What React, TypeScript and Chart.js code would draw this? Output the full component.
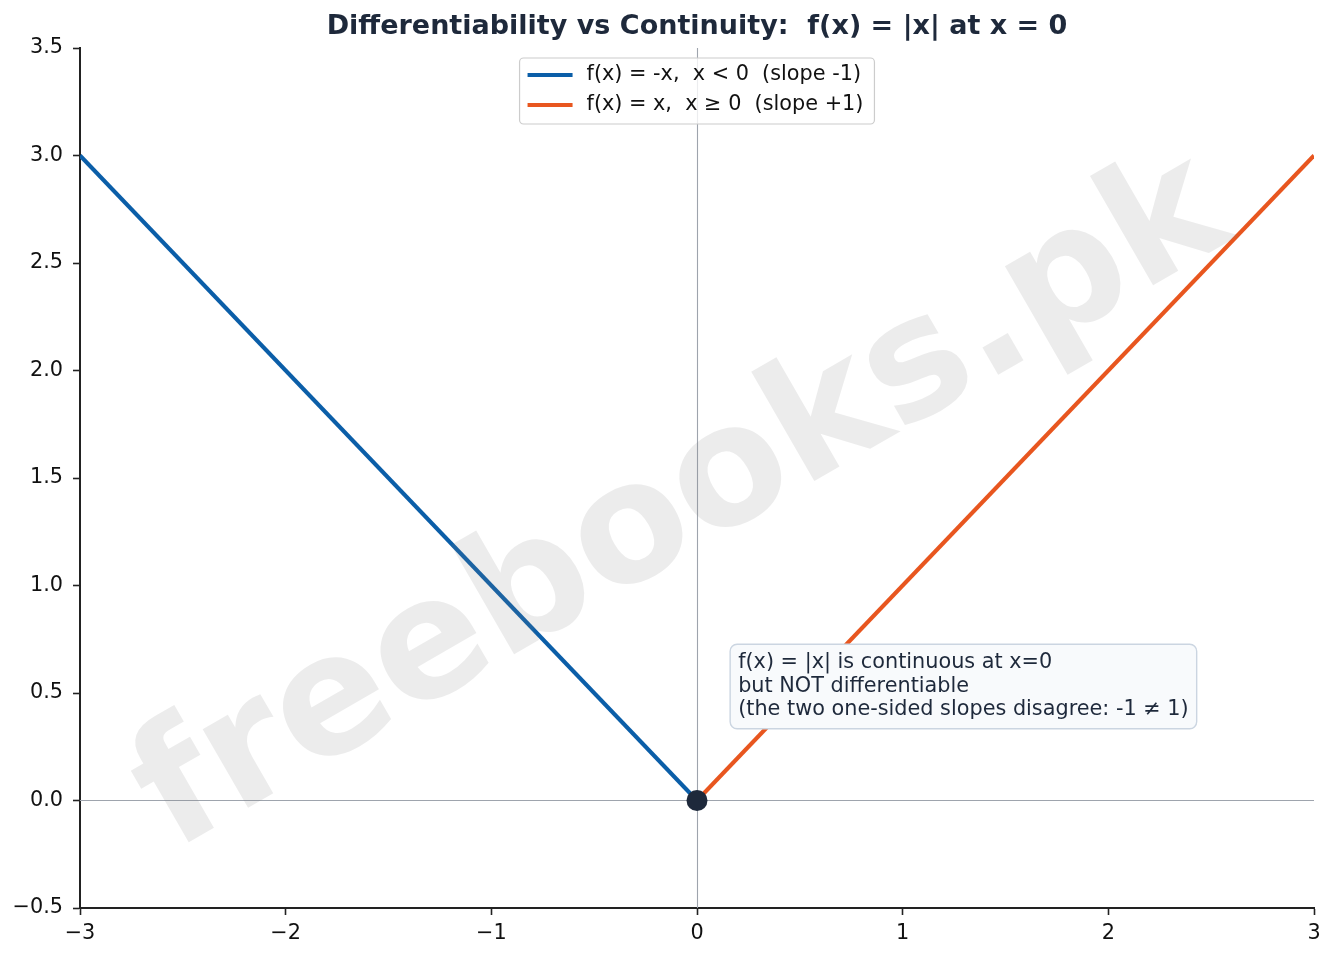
import React, { useEffect, useRef } from "react";
import { Chart, registerables } from "chart.js";

Chart.register(...registerables);

// ---------- data ----------
const TITLE = "Differentiability vs Continuity:  f(x) = |x| at x = 0";
const leftX = [-3, 0];
const leftY = [3, 0];
const rightX = [0, 3];
const rightY = [0, 3];
const vertexX = [0];
const vertexY = [0];
const seriesLabels = [
  "f(x) = -x,  x < 0  (slope -1)",
  "f(x) = x,  x \u2265 0  (slope +1)",
];
const seriesColors = ["#0b5ea8", "#e8561f"];
const xTicks = [-3, -2, -1, 0, 1, 2, 3];
const yTicks = [-0.5, 0, 0.5, 1, 1.5, 2, 2.5, 3, 3.5];
const noteLines = [
  "f(x) = |x| is continuous at x=0",
  "but NOT differentiable",
  "(the two one-sided slopes disagree: -1 \u2260 1)",
];
const noteAnchor = [0.2, 0.53]; // data coords: text left x, vertical center y
const WATERMARK = "freebooks.pk";

const FONT = "'DejaVu Sans', sans-serif";
const INK = "#1e293b";
const TEXT_PX = 20.8;

const fmt = (v: number, dec: number) => {
  const s = Math.abs(v).toFixed(dec);
  return v < 0 ? "\u2212" + s : s;
};

const decorPlugin = {
  id: "decor",
  beforeDatasetsDraw(chart: any) {
    const { ctx, chartArea, scales } = chart;
    const x0 = Math.floor(scales.x.getPixelForValue(0)) + 0.5;
    const y0 = scales.y.getPixelForValue(0);
    ctx.save();
    ctx.strokeStyle = "#9ea4ad";
    ctx.lineWidth = 1.1;
    ctx.beginPath();
    ctx.moveTo(x0, chartArea.top);
    ctx.lineTo(x0, chartArea.bottom);
    ctx.moveTo(chartArea.left, y0);
    ctx.lineTo(chartArea.right, y0);
    ctx.stroke();
    ctx.restore();
  },
  afterDraw(chart: any) {
    const { ctx, chartArea, scales, width, height } = chart;
    ctx.save();
    // title
    ctx.fillStyle = INK;
    ctx.font = `bold 27px ${FONT}`;
    ctx.textAlign = "center";
    ctx.textBaseline = "middle";
    ctx.fillText(TITLE, (chartArea.left + chartArea.right) / 2, 27);

    // annotation box
    ctx.font = `${TEXT_PX}px ${FONT}`;
    ctx.textAlign = "left";
    const lh = 23.5;
    const tx = scales.x.getPixelForValue(noteAnchor[0]);
    const cy = scales.y.getPixelForValue(noteAnchor[1]);
    const maxW = Math.max(...noteLines.map((l) => ctx.measureText(l).width));
    const bx = tx - 8;
    const bw = maxW + 16;
    const bh = lh * noteLines.length + 14;
    const by = cy - bh / 2;
    ctx.beginPath();
    ctx.roundRect(bx, by, bw, bh, 7);
    ctx.fillStyle = "#f8fafc";
    ctx.fill();
    ctx.strokeStyle = "#cbd5e1";
    ctx.lineWidth = 1.4;
    ctx.stroke();
    ctx.fillStyle = INK;
    noteLines.forEach((l, i) => {
      ctx.fillText(l, tx, cy + (i - (noteLines.length - 1) / 2) * lh);
    });

    // legend (upper center)
    ctx.font = `${TEXT_PX}px ${FONT}`;
    const textW = Math.max(...seriesLabels.map((l) => ctx.measureText(l).width));
    const lw = 8 + 45 + 14 + textW + 11;
    const lhgt = 66;
    const lx = (chartArea.left + chartArea.right) / 2 - lw / 2;
    const ly = chartArea.top + 10;
    ctx.beginPath();
    ctx.roundRect(lx, ly, lw, lhgt, 4);
    ctx.fillStyle = "rgba(255,255,255,0.8)";
    ctx.fill();
    ctx.strokeStyle = "#cccccc";
    ctx.lineWidth = 1.2;
    ctx.stroke();
    seriesLabels.forEach((l, i) => {
      const ry = ly + 17 + i * 30;
      ctx.strokeStyle = seriesColors[i];
      ctx.lineWidth = 4;
      ctx.beginPath();
      ctx.moveTo(lx + 8, ry);
      ctx.lineTo(lx + 53, ry);
      ctx.stroke();
      ctx.fillStyle = "#111111";
      ctx.textBaseline = "middle";
      ctx.fillText(l, lx + 67, ry);
    });

    // watermark
    ctx.translate(width / 2, height / 2);
    ctx.rotate((-30 * Math.PI) / 180);
    ctx.font = `bold 166px ${FONT}`;
    ctx.textAlign = "center";
    ctx.textBaseline = "middle";
    ctx.fillStyle = "rgba(128,128,128,0.15)";
    ctx.fillText(WATERMARK, 0, 32);
    ctx.restore();
  },
};

export default function App() {
  const ref = useRef<HTMLCanvasElement>(null);
  useEffect(() => {
    document.body.style.margin = "0";
    const canvas = ref.current!;
    const chart = new Chart(canvas, {
      type: "line",
      data: {
        datasets: [
          {
            label: seriesLabels[0],
            data: leftX.map((x, i) => ({ x, y: leftY[i] })),
            borderColor: seriesColors[0],
            borderWidth: 4,
            pointRadius: 0,
            fill: false,
            order: 2,
          },
          {
            label: seriesLabels[1],
            data: rightX.map((x, i) => ({ x, y: rightY[i] })),
            borderColor: seriesColors[1],
            borderWidth: 4,
            pointRadius: 0,
            fill: false,
            order: 1,
          },
          {
            label: "vertex",
            data: vertexX.map((x, i) => ({ x, y: vertexY[i] })),
            showLine: false,
            pointRadius: 10.5,
            pointBackgroundColor: INK,
            pointBorderColor: INK,
            pointBorderWidth: 0,
            order: 0,
            clip: false,
          } as any,
        ],
      },
      options: {
        animation: false,
        responsive: false,
        devicePixelRatio: 1,
        events: [],
        layout: { padding: { top: 48, left: 0, right: 21, bottom: 0 } },
        plugins: {
          legend: { display: false },
          title: { display: false },
          tooltip: { enabled: false },
        },
        scales: {
          x: {
            type: "linear",
            min: -3,
            max: 3,
            afterBuildTicks: (s: any) => {
              s.ticks = xTicks.map((v) => ({ value: v }));
            },
            afterFit: (s: any) => {
              s.height = 50;
            },
            ticks: {
              callback: (v: any) => fmt(Number(v), 0),
              font: { family: FONT, size: TEXT_PX },
              color: "#111111",
              padding: 6,
              maxRotation: 0,
              autoSkip: false,
            },
            grid: {
              drawOnChartArea: false,
              drawTicks: true,
              tickLength: 7,
              tickColor: "#222222",
              tickWidth: 1.6,
            },
            border: { display: true, color: "#222222", width: 2 },
          },
          y: {
            type: "linear",
            min: -0.5,
            max: 3.5,
            afterBuildTicks: (s: any) => {
              s.ticks = yTicks.map((v) => ({ value: v }));
            },
            afterFit: (s: any) => {
              s.width = 80;
            },
            ticks: {
              callback: (v: any) => fmt(Number(v), 1),
              font: { family: FONT, size: TEXT_PX },
              color: "#111111",
              padding: 10,
              autoSkip: false,
            },
            grid: {
              drawOnChartArea: false,
              drawTicks: true,
              tickLength: 7,
              tickColor: "#222222",
              tickWidth: 1.6,
            },
            border: { display: true, color: "#222222", width: 2 },
          },
        },
      },
      plugins: [decorPlugin],
    });
    return () => chart.destroy();
  }, []);
  return (
    <div style={{ position: "absolute", left: 0, top: 0, width: 1335, height: 958, background: "#fff" }}>
      <canvas ref={ref} width={1335} height={958} style={{ width: 1335, height: 958, display: "block" }} />
    </div>
  );
}
